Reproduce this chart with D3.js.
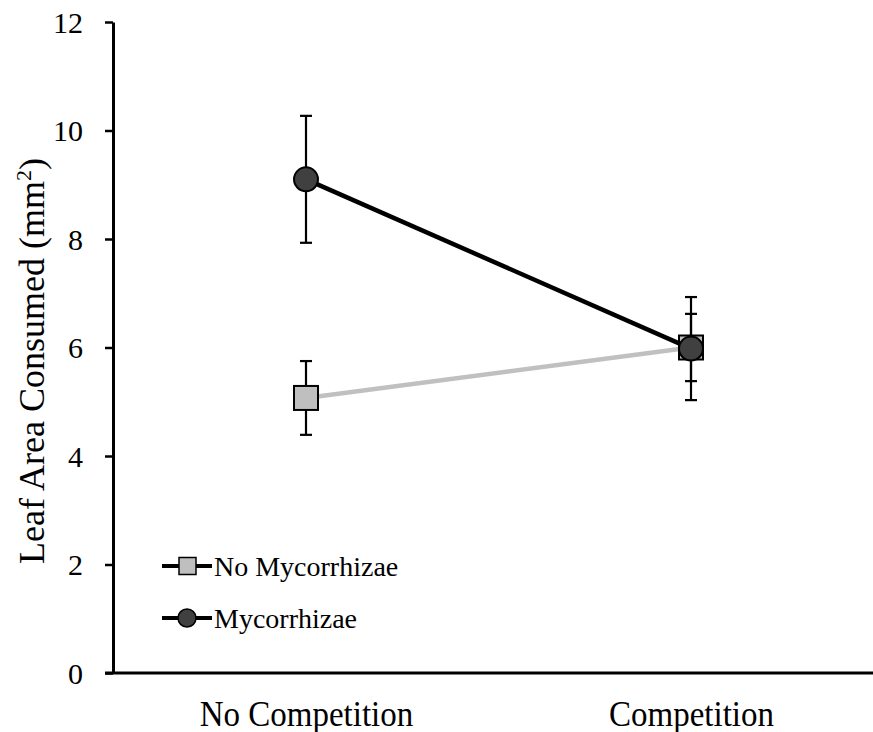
<!DOCTYPE html>
<html><head><meta charset="utf-8">
<script src="https://cdn.jsdelivr.net/npm/d3@7"></script>
<style>body{margin:0;background:#fff}svg{display:block}</style>
</head><body>
<svg id="c" width="873" height="732"></svg>
<script>
const categories = ["No Competition", "Competition"];
const seriesNames = ["No Mycorrhizae", "Mycorrhizae"];
const noMycValues = [5.07, 6.0];
const noMycErrors = [0.68, 0.62];
const mycValues = [9.1, 5.98];
const mycErrors = [1.17, 0.95];
const yTicks = [0, 2, 4, 6, 8, 10, 12];

const series = [
  {name: seriesNames[0], values: noMycValues, errors: noMycErrors, shape: "square", line: "#c0c0c0", fill: "#bfbfbf"},
  {name: seriesNames[1], values: mycValues, errors: mycErrors, shape: "circle", line: "#000", fill: "#404040"}
];

const svg = d3.select("#c");
const font = "'Liberation Serif','Times New Roman',serif";
const mLeft = 113, mRight = 873, mTop = 22, mBottom = 673;

const x = d3.scalePoint().domain(categories).range([306, 691]);
const y = d3.scaleLinear().domain([0, 12]).range([mBottom, mTop]);

// axes
const yAxis = svg.append("g").attr("transform", `translate(${mLeft},0)`)
  .call(d3.axisLeft(y).tickValues(yTicks).tickSize(8).tickSizeOuter(0).tickPadding(22));
yAxis.select(".domain").attr("stroke", "#000").attr("stroke-width", 3);
yAxis.selectAll(".tick line").attr("stroke", "#000").attr("stroke-width", 2.5);
yAxis.selectAll(".tick text").attr("font-family", font).attr("font-size", 30).attr("fill", "#000")
  .attr("dy", "0.34em");

const xAxis = svg.append("g").attr("transform", `translate(0,${mBottom})`)
  .call(d3.axisBottom(x).tickSize(0).tickPadding(0));
xAxis.select(".domain").remove();
svg.append("line").attr("x1", mLeft - 8).attr("x2", mRight).attr("y1", mBottom).attr("y2", mBottom)
  .attr("stroke", "#000").attr("stroke-width", 3);
xAxis.selectAll(".tick text").attr("font-family", font).attr("font-size", 33).attr("fill", "#000")
  .attr("y", 0).attr("dy", 0)
  .attr("transform", "translate(0,53) scale(1,1.08)");

// axis title
svg.append("text").attr("transform", `translate(44,361) rotate(-90)`)
  .attr("text-anchor", "middle").attr("font-family", font).attr("font-size", 36).attr("fill", "#000")
  .html('Leaf Area Consumed (mm<tspan dy="-13" font-size="22">2</tspan><tspan dy="13">)</tspan>');

// lines
const lineGen = d3.line().x((d, i) => x(categories[i])).y(d => y(d));
series.forEach(s => {
  svg.append("path").datum(s.values).attr("d", lineGen).attr("fill", "none")
    .attr("stroke", s.line).attr("stroke-width", 4.5);
});

// error bars
series.forEach(s => {
  const g = svg.append("g").attr("stroke", "#000").attr("stroke-width", 2.2);
  s.values.forEach((v, i) => {
    const cx = x(categories[i]);
    const y1 = y(v + s.errors[i]), y2 = y(v - s.errors[i]);
    g.append("line").attr("x1", cx).attr("x2", cx).attr("y1", y1).attr("y2", y2);
    g.append("line").attr("x1", cx - 6).attr("x2", cx + 6).attr("y1", y1).attr("y2", y1);
    g.append("line").attr("x1", cx - 6).attr("x2", cx + 6).attr("y1", y2).attr("y2", y2);
  });
});

// markers
function marker(g, shape, fill, cx, cy) {
  if (shape === "square") {
    g.append("rect").attr("x", cx - 12).attr("y", cy - 12).attr("width", 24).attr("height", 24)
      .attr("fill", fill).attr("stroke", "#000").attr("stroke-width", 2);
  } else {
    g.append("circle").attr("cx", cx).attr("cy", cy).attr("r", 12)
      .attr("fill", fill).attr("stroke", "#000").attr("stroke-width", 2);
  }
}
series.forEach(s => {
  const g = svg.append("g");
  s.values.forEach((v, i) => marker(g, s.shape, s.fill, x(categories[i]), y(v)));
});

// legend
series.forEach((s, i) => {
  const ly = 566 + i * 52;
  const g = svg.append("g");
  g.append("line").attr("x1", 162).attr("x2", 212).attr("y1", ly).attr("y2", ly)
    .attr("stroke", "#000").attr("stroke-width", 4);
  if (s.shape === "square") {
    g.append("rect").attr("x", 179).attr("y", ly - 8.5).attr("width", 17).attr("height", 17)
      .attr("fill", s.fill).attr("stroke", "#000").attr("stroke-width", 1.5);
  } else {
    g.append("circle").attr("cx", 187).attr("cy", ly).attr("r", 9)
      .attr("fill", s.fill).attr("stroke", "#000").attr("stroke-width", 1.5);
  }
  g.append("text").attr("x", 214).attr("y", ly + 10).attr("font-family", font).attr("font-size", 28)
    .attr("fill", "#000").text(s.name);
});
</script>
</body></html>
